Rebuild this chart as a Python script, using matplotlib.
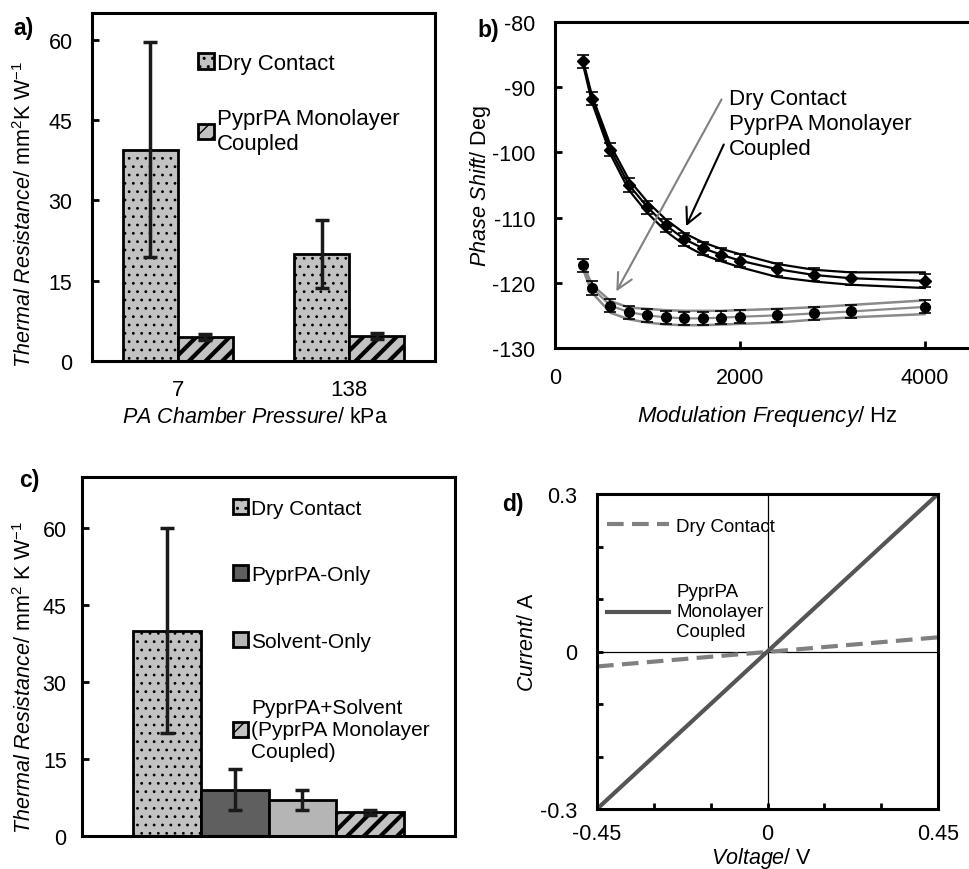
import numpy as np
import matplotlib
matplotlib.use('Agg')
import matplotlib.pyplot as plt

plt.rcParams['font.family'] = ['Liberation Sans', 'DejaVu Sans']
plt.rcParams['mathtext.fontset'] = 'custom'
plt.rcParams['mathtext.rm'] = 'Liberation Sans'
plt.rcParams['mathtext.it'] = 'Liberation Sans:italic'
plt.rcParams['mathtext.bf'] = 'Liberation Sans:bold'
plt.rcParams['axes.unicode_minus'] = False
plt.rcParams['axes.linewidth'] = 2.2

# ---- data ----
# a) thermal resistance vs chamber pressure
pressures = ["7", "138"]
dry_a = [39.5, 20.0]
dry_a_err = [20.0, 6.3]
mono_a = [4.5, 4.7]
mono_a_err = [0.5, 0.5]

# b) phase shift vs modulation frequency
freq = [300, 400, 600, 800, 1000, 1200, 1400, 1600, 1800, 2000, 2400, 2800, 3200, 4000]
phase_mono = [-86.0, -91.8, -99.6, -105.0, -108.4, -111.2, -113.3, -114.7,
              -115.7, -116.6, -117.9, -118.8, -119.3, -119.7]
phase_mono_hi = [-85.7, -91.3, -98.9, -104.2, -107.6, -110.3, -112.4, -113.8,
                 -114.8, -115.6, -117.1, -118.0, -118.4, -118.4]
phase_mono_lo = [-86.3, -92.3, -100.3, -105.8, -109.3, -112.1, -114.2, -115.7,
                 -116.7, -117.6, -119.1, -119.8, -120.3, -120.8]
phase_dry = [-117.3, -120.8, -123.5, -124.5, -125.0, -125.3, -125.45, -125.45,
             -125.35, -125.2, -125.0, -124.7, -124.4, -123.7]
phase_dry_hi = [-117.0, -120.3, -122.8, -123.8, -124.0, -124.2, -124.3, -124.3,
                -124.3, -124.2, -124.0, -123.75, -123.4, -122.7]
phase_dry_lo = [-117.8, -121.5, -124.6, -125.6, -126.1, -126.4, -126.5, -126.5,
                -126.4, -126.3, -126.1, -125.65, -125.3, -124.8]
phase_err = 1.0

# c) thermal resistance by treatment
treat_labels = ["Dry Contact", "PyprPA-Only", "Solvent-Only",
                "PyprPA+Solvent\n(PyprPA Monolayer\nCoupled)"]
treat_vals = [40.0, 9.0, 7.0, 4.6]
treat_err = [20.0, 4.0, 2.0, 0.5]

# d) I-V curves
volt = [-0.45, 0.45]
cur_dry = [-0.0285, 0.027]
cur_mono = [-0.3, 0.3]

FS = 15.5
W, H = 970, 870
fig = plt.figure(figsize=(9.7, 8.7), dpi=100)

DOTS, STRIPES = '..', '//'
LW_DOTS, LW_STRIPES = 0.8, 3.0


def px_axes(x0, y0, x1, y1):
    return fig.add_axes([x0 / W, 1 - y1 / H, (x1 - x0) / W, (y1 - y0) / H])


def hatched_bar(ax, xpos, val, width, color, hatch, label):
    lwh = LW_STRIPES if hatch == STRIPES else LW_DOTS
    with plt.rc_context({'hatch.linewidth': lwh}):
        b = ax.bar(xpos, val, width, color=color, edgecolor='black',
                   linewidth=2, hatch=hatch, label=label)
    for p in b:
        if hatch and hasattr(p, 'set_hatch_linewidth'):
            p.set_hatch_linewidth(lwh)
    return b


# ---------------- a ----------------
ax = px_axes(92, 14, 435, 362)
x = np.arange(len(pressures))
bw = 0.32
hatched_bar(ax, x - bw / 2, dry_a, bw, '#c2c2c2', DOTS, 'Dry Contact')
hatched_bar(ax, x + bw / 2, mono_a, bw, '#c2c2c2', STRIPES, 'PyprPA Monolayer\nCoupled')
ax.errorbar(x - bw / 2, dry_a, yerr=dry_a_err, fmt='none', ecolor='#1a1a1a',
            elinewidth=2.5, capsize=5, capthick=2.5)
ax.errorbar(x + bw / 2, mono_a, yerr=mono_a_err, fmt='none', ecolor='#1a1a1a',
            elinewidth=2.5, capsize=5, capthick=2.5)
ax.set_xlim(-0.5, 1.5)
ax.set_ylim(0, 65)
ax.set_yticks([0, 15, 30, 45, 60])
ax.set_xticks(x)
ax.set_xticklabels(pressures)
ax.tick_params(axis='y', direction='in', length=5, width=2, pad=14, labelsize=FS)
ax.tick_params(axis='x', length=0, pad=13, labelsize=FS + 0.5)
ax.set_ylabel(r'$\mathit{Thermal\ Resistance}$/ mm$^2$K W$^{-1}$', fontsize=FS)
ax.yaxis.set_label_coords(-0.163, 0.425)
ax.set_xlabel(r'$\mathit{PA\ Chamber\ Pressure}$/ kPa', fontsize=FS)
ax.xaxis.set_label_coords(0.475, -0.129)
ax.legend(loc='upper left', bbox_to_anchor=(0.309, 0.885), frameon=False,
          fontsize=FS + 0.5, handlelength=0.7, handleheight=0.7,
          handletextpad=0.15, labelspacing=1.55, borderpad=0, borderaxespad=0)

# ---------------- b ----------------
ax = px_axes(555, 23, 971, 349)
ax.plot(freq, phase_mono_hi, color='black', lw=1.6)
ax.plot(freq, phase_mono_lo, color='black', lw=1.6)
ax.plot(freq, phase_mono, color='black', lw=1.6)
ax.errorbar(freq, phase_mono, yerr=phase_err, fmt='D', color='black', ms=6,
            elinewidth=1.2, capsize=4, capthick=1.2)
ax.plot(freq, phase_dry_hi, color='#8a8a8a', lw=1.8)
ax.plot(freq, phase_dry_lo, color='#8a8a8a', lw=1.8)
ax.plot(freq, phase_dry, color='#8a8a8a', lw=1.6)
ax.errorbar(freq, phase_dry, yerr=phase_err, fmt='o', color='black', ms=7,
            elinewidth=1.2, capsize=4, capthick=1.2)
ax.annotate('', xy=(649, -121.7), xytext=(1816, -91.5),
            arrowprops=dict(arrowstyle='->', color='#808080', lw=1.5,
                            mutation_scale=28))
ax.annotate('', xy=(1405, -111.7), xytext=(1838, -98.4),
            arrowprops=dict(arrowstyle='->', color='black', lw=1.5,
                            mutation_scale=28))
ax.text(1881, -90.1, 'Dry Contact\nPyprPA Monolayer\nCoupled', fontsize=FS + 0.5,
        va='top', ha='left', linespacing=1.25)
ax.set_xlim(0, 4500)
ax.set_ylim(-130, -80)
ax.set_xticks([0, 2000, 4000])
ax.set_yticks([-130, -120, -110, -100, -90, -80])
ax.tick_params(direction='in', length=5, width=2, pad=14, labelsize=FS)
ax.set_ylabel(r'$\mathit{Phase\ Shift}$/ Deg', fontsize=FS)
ax.yaxis.set_label_coords(-0.15, 0.5)
ax.set_xlabel(r'$\mathit{Modulation\ Frequency}$/ Hz', fontsize=FS + 0.5)
ax.xaxis.set_label_coords(0.511, -0.169)

# ---------------- c ----------------
ax = px_axes(82, 478, 455, 837)
xc = np.arange(len(treat_vals))
colors_c = ['#c2c2c2', '#5f5f5f', '#b5b5b5', '#c2c2c2']
hatches_c = [DOTS, None, None, STRIPES]
handles = []
for i in range(len(treat_vals)):
    handles.append(hatched_bar(ax, xc[i], treat_vals[i], 1.0, colors_c[i],
                               hatches_c[i], treat_labels[i]))
ax.errorbar(xc, treat_vals, yerr=treat_err, fmt='none', ecolor='#1a1a1a',
            elinewidth=2.5, capsize=5, capthick=2.5)
ax.set_xlim(-1.25, 4.25)
ax.set_ylim(0, 70)
ax.set_yticks([0, 15, 30, 45, 60])
ax.set_xticks([])
ax.tick_params(axis='y', direction='in', length=5, width=2, pad=11, labelsize=FS)
ax.set_ylabel(r'$\mathit{Thermal\ Resistance}$/ mm$^2$ K W$^{-1}$', fontsize=FS)
ax.yaxis.set_label_coords(-0.123, 0.446)
ax.legend(handles=handles, loc='upper left', bbox_to_anchor=(0.405, 0.94),
          frameon=False, fontsize=FS - 0.5, handlelength=0.7, handleheight=0.7,
          handletextpad=0.15, labelspacing=2.28, borderpad=0, borderaxespad=0)

# ---------------- d ----------------
ax = px_axes(597, 495, 938, 810)
ax.axhline(0, color='black', lw=0.9)
ax.axvline(0, color='black', lw=0.9)
ln_dry, = ax.plot(volt, cur_dry, color='#808080', lw=3, dashes=(4, 2),
                  label='Dry Contact')
ln_mono, = ax.plot(volt, cur_mono, color='#555555', lw=3,
                   label='PyprPA\nMonolayer\nCoupled')
ax.set_xlim(-0.45, 0.45)
ax.set_ylim(-0.3, 0.3)
xt = [-0.45, -0.3, -0.15, 0, 0.15, 0.3, 0.45]
yt = [-0.3, -0.2, -0.1, 0, 0.1, 0.2, 0.3]
ax.set_xticks(xt)
ax.set_xticklabels(['-0.45', '', '', '0', '', '', '0.45'])
ax.set_yticks(yt)
ax.set_yticklabels(['-0.3', '', '', '0', '', '', '0.3'])
ax.tick_params(direction='in', length=4, width=2, labelsize=FS)
ax.tick_params(axis='y', pad=14)
ax.tick_params(axis='x', pad=10)
ax.set_ylabel(r'$\mathit{Current}$/ A', fontsize=FS)
ax.yaxis.set_label_coords(-0.173, 0.533)
ax.set_xlabel(r'$\mathit{Voltage}$/ V', fontsize=FS)
ax.xaxis.set_label_coords(0.484, -0.114)
ax.legend(handles=[ln_dry, ln_mono], loc='upper left', bbox_to_anchor=(0.029, 0.925),
          frameon=False, fontsize=FS - 2, handlelength=3.3, handletextpad=0.4,
          labelspacing=2.6, borderpad=0, borderaxespad=0)

# panel letters
for lab, px, py in [('a)', 24, 29), ('b)', 488, 30), ('c)', 29, 481), ('d)', 513, 504)]:
    fig.text(px / W, 1 - py / H, lab, fontsize=FS + 1, fontweight='bold',
             ha='center', va='center')

fig.savefig('out.png', dpi=100)
